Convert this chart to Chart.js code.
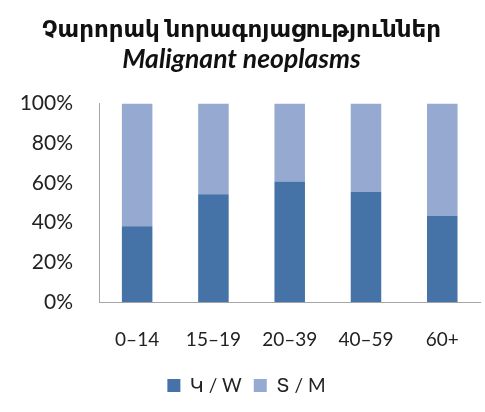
<!DOCTYPE html>
<html>
<head>
  <meta charset="utf-8">
  <title>Malignant neoplasms</title>
  <style>
    body {
      margin: 0;
      background: #fff;
    }
    .chart-box {
      width: 485px;
      height: 412px;
    }
  </style>
</head>
<body>
  <div class="chart-box">
    <canvas id="chart"></canvas>
  </div>

  <script src="https://cdn.jsdelivr.net/npm/chart.js"></script>
  <script>
    // data (percent of each age group)
    const ageGroups = ['0–14', '15–19', '20–39', '40–59', '60+'];
    const women = [38.2, 54.3, 60.7, 55.5, 43.5];
    const men = [61.8, 45.7, 39.3, 44.5, 56.5];
    const seriesNames = ['Կ / W', 'Տ / M'];
    const yTicks = [0, 20, 40, 60, 80, 100];

    const font = 'Lato, "DejaVu Sans", sans-serif';

    // nudge legend to sit under the plot area like the original
    const legendShift = {
      id: 'legendShift',
      afterLayout(chart) {
        const lg = chart.legend;
        lg.left += 5;
        lg.right += 5;
        lg.top -= 13;
        lg.bottom -= 13;
      }
    };

    new Chart(document.getElementById('chart'), {
      type: 'bar',
      data: {
        labels: ageGroups,
        datasets: [
          { label: seriesNames[0], data: women, backgroundColor: '#4572a7' },
          { label: seriesNames[1], data: men, backgroundColor: '#95a9d1' }
        ]
      },
      plugins: [legendShift],
      options: {
        responsive: true,
        maintainAspectRatio: false,
        animation: false,
        layout: { padding: { left: 0, right: 2, bottom: -6 } },
        datasets: {
          bar: { barPercentage: 0.8, categoryPercentage: 0.5 }
        },
        scales: {
          x: {
            stacked: true,
            grid: { display: false, drawTicks: false },
            border: { color: '#a6a6a6', width: 1 },
            ticks: {
              color: '#222',
              font: { family: font, size: 19 },
              padding: 26
            }
          },
          y: {
            stacked: true,
            min: 0,
            max: 100,
            afterFit(scale) { scale.width = 99; },
            afterBuildTicks(scale) {
              scale.ticks = yTicks.map(v => ({ value: v }));
            },
            grid: { display: false, drawTicks: false },
            border: { color: '#a6a6a6', width: 1 },
            ticks: {
              color: '#222',
              font: { family: font, size: 21 },
              padding: 26,
              callback: v => v + '%'
            }
          }
        },
        plugins: {
          title: {
            display: true,
            text: 'Չարորակ նորագոյացություններ',
            color: '#111',
            font: { family: font, size: 23, weight: 'bold' },
            padding: { top: 16, bottom: 0 }
          },
          subtitle: {
            display: true,
            text: 'Malignant neoplasms',
            color: '#111',
            font: { family: font, size: 26.5, weight: 'bold', style: 'italic' },
            padding: { top: 0, bottom: 28 }
          },
          legend: {
            position: 'bottom',
            labels: {
              color: '#222',
              boxWidth: 13,
              boxHeight: 13,
              padding: 12,
              font: { family: font, size: 19 }
            }
          },
          tooltip: { enabled: false }
        }
      }
    });
  </script>
</body>
</html>
